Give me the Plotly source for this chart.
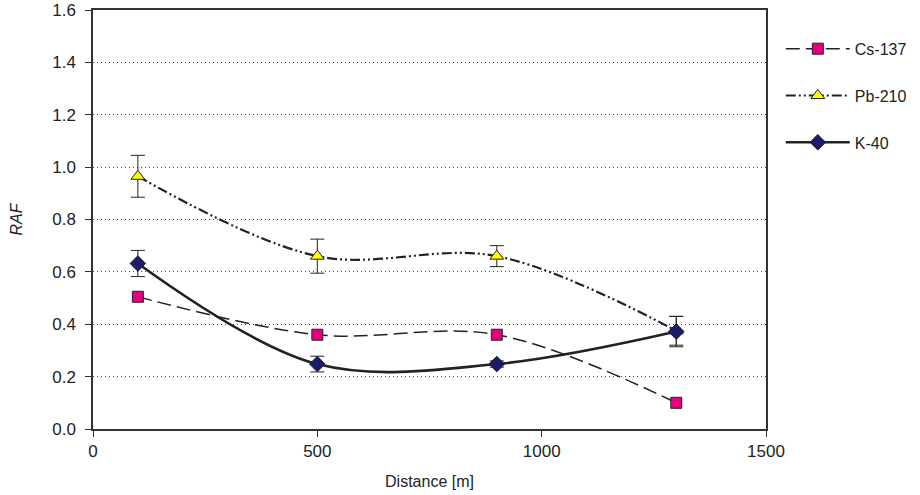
import plotly.graph_objects as go

distance = [100, 500, 900, 1300]

cs137 = [0.505, 0.36, 0.36, 0.10]
cs137_err = [0.012, 0.012, 0.012, 0.01]

pb210 = [0.965, 0.66, 0.66, 0.375]
pb210_err = [0.08, 0.065, 0.04, 0.055]

k40 = [0.632, 0.248, 0.248, 0.372]
k40_err = [0.05, 0.03, 0.012, 0.058]

x_ticks = [0, 500, 1000, 1500]
y_ticks = [0.0, 0.2, 0.4, 0.6, 0.8, 1.0, 1.2, 1.4, 1.6]

FAM = "Liberation Sans, Arial, sans-serif"
font = dict(family=FAM, size=16, color="#222222")

fig = go.Figure()

fig.add_trace(go.Scatter(
    x=distance, y=cs137, name="Cs-137", mode="lines+markers",
    legendgroup="a",
    line=dict(color="#222222", width=1.5, dash="14px,6px", shape="spline", smoothing=1),
    marker=dict(symbol="square", size=11, color="#E6007E", line=dict(color="#222222", width=1)),
    error_y=dict(type="data", array=cs137_err, color="#222222", thickness=1, width=5),
))
fig.add_trace(go.Scatter(
    x=distance, y=pb210, name="Pb-210", mode="lines+markers",
    legendgroup="b",
    line=dict(color="#222222", width=2.2, dash="10px,3px,2px,3px,2px,3px", shape="spline", smoothing=1),
    marker=dict(symbol="triangle-up", size=12, color="#FFFF00", line=dict(color="#222222", width=1)),
    error_y=dict(type="data", array=pb210_err, color="#222222", thickness=1, width=7),
))
fig.add_trace(go.Scatter(
    x=distance, y=k40, name="K-40", mode="lines+markers",
    legendgroup="c",
    line=dict(color="#222222", width=2.6, shape="spline", smoothing=1),
    marker=dict(symbol="diamond", size=12, color="#1C1A6B", line=dict(color="#222222", width=1)),
    error_y=dict(type="data", array=k40_err, color="#222222", thickness=1, width=7),
))

fig.update_layout(
    width=920, height=495,
    margin=dict(l=93, r=154, t=10, b=66, autoexpand=False),
    paper_bgcolor="white", plot_bgcolor="white",
    font=font,
    showlegend=True,
    legend=dict(x=1.022, y=0.948, xanchor="left", yanchor="top",
                traceorder="grouped", tracegroupgap=23, itemwidth=64,
                font=dict(family=FAM, size=16, color="#222222"),
                bgcolor="rgba(0,0,0,0)"),
)

fig.update_xaxes(
    range=[0, 1500], tickvals=x_ticks, ticktext=[str(v) for v in x_ticks],
    showline=True, linecolor="#333333", linewidth=1.5, mirror=True,
    ticks="outside", ticklen=6, tickcolor="#333333",
    showgrid=False, zeroline=False, automargin=False,
    title=dict(text="Distance [m]", font=dict(family=FAM, size=16), standoff=16),
    tickfont=dict(family=FAM, size=17),
)
fig.update_yaxes(
    range=[0, 1.6], tickvals=y_ticks, ticktext=[f"{v:.1f}" for v in y_ticks],
    showline=True, linecolor="#333333", linewidth=1.5, mirror=True,
    ticks="outside", ticklen=6, tickcolor="#333333",
    showgrid=True, gridcolor="#444444", griddash="1px,3px", gridwidth=1,
    zeroline=False, automargin=False, ticklabelstandoff=6,
    ticklabeloverflow="allow",
    title=dict(text="<i>RAF</i>", font=dict(family=FAM, size=16), standoff=26),
    tickfont=dict(family=FAM, size=17),
)

fig.write_html("out.html", config={"displayModeBar": False},
               post_script="document.body.style.margin='0px';")
